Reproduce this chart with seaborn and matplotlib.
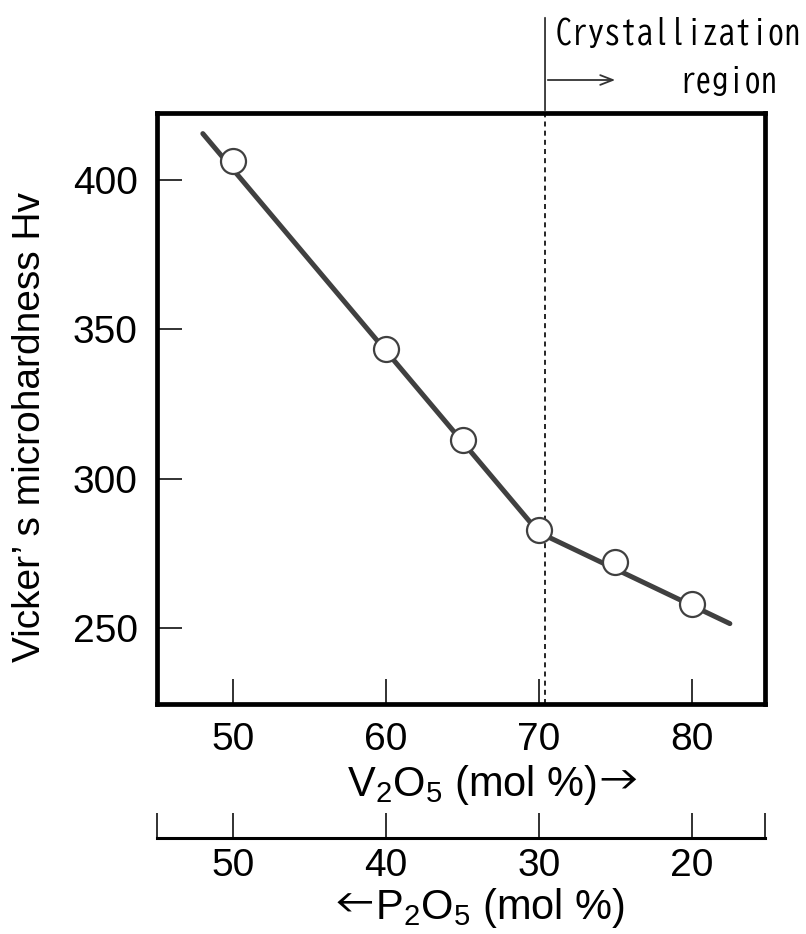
import matplotlib
matplotlib.use("Agg")
import matplotlib.pyplot as plt
import matplotlib.font_manager as fm
import seaborn as sns
import pandas as pd

# ---- data ----
v2o5_points = [50, 60, 65, 70, 75, 80]
hardness_points = [406.5, 343.5, 313, 283, 272, 258]
fit_x = [48.0, 70.0, 82.5]
fit_y = [415.5, 282.0, 251.5]
y_ticks = [250, 300, 350, 400]
x_ticks = [50, 60, 70, 80]
p2o5_ticks = [50, 40, 30, 20]
cryst_boundary = 70.4

sns.set_style("white")
installed = {f.name for f in fm.fontManager.ttflist}
GOTHIC = next((n for n in ["BIZ UDGothic", "Kosugi", "M PLUS 1 Code",
                           "Archivo Narrow"] if n in installed), "DejaVu Sans")
SANS = "Liberation Sans"
FAM = [SANS, "DejaVu Sans"]
GFAM = [GOTHIC, "DejaVu Sans"]
plt.rcParams["font.family"] = FAM
plt.rcParams["mathtext.fontset"] = "custom"
plt.rcParams["mathtext.rm"] = SANS
plt.rcParams["mathtext.it"] = SANS
plt.rcParams["text.color"] = "black"
plt.rcParams["xtick.color"] = "black"
plt.rcParams["ytick.color"] = "black"

FS = 28
W, H = 806, 934
fig = plt.figure(figsize=(W / 100, H / 100), dpi=100)
L, R, T, B = 157, 765, 113, 704
ax = fig.add_axes([L / W, 1 - B / H, (R - L) / W, (B - T) / H])

df_pts = pd.DataFrame({"v": v2o5_points, "h": hardness_points})
df_fit = pd.DataFrame({"v": fit_x, "h": fit_y})
sns.lineplot(data=df_fit, x="v", y="h", ax=ax, color="#404040", lw=3.6,
             sort=False, zorder=2)
ax.plot(df_pts["v"], df_pts["h"], ls="none", marker="o", ms=18,
        mfc="white", mec="#404040", mew=1.6, zorder=3)

ax.set_xlim(45.0, 84.8)
ax.set_ylim(224.6, 422.4)
ax.set_xticks(x_ticks)
ax.set_yticks(y_ticks)
ax.set_xticklabels([str(t) for t in x_ticks])
ax.set_yticklabels([str(t) for t in y_ticks])
ax.tick_params(bottom=True, left=True, direction="in", length=18, width=1.3,
               color="#222222", labelsize=FS, pad=13)
ax.tick_params(axis="y", pad=14)
for s in ax.spines.values():
    s.set_linewidth(3.4)
    s.set_color("black")
ax.set_xlabel("")
ax.set_ylabel("")

# dashed boundary
ax.axvline(cryst_boundary, color="black", ls=(0, (3, 2.5)), lw=1.2, zorder=1)
# solid extension above axes
ax.annotate("", xy=(cryst_boundary, 1.0), xycoords=("data", "axes fraction"),
            xytext=(cryst_boundary, (H - 15) / H), textcoords=("data", "figure fraction"),
            arrowprops=dict(arrowstyle="-", color="#333333", lw=1.3),
            annotation_clip=False)
ax.annotate("", xy=(618 / W, 1 - 80 / H), xycoords="figure fraction",
            xytext=(cryst_boundary, 1 - 80 / H), textcoords=("data", "figure fraction"),
            arrowprops=dict(arrowstyle="->,head_length=0.9,head_width=0.35",
                            color="#333333", lw=1.3),
            annotation_clip=False)
fig.text(556 / W, 1 - 33 / H, "Crystallization", ha="left", va="center",
         fontsize=23.5, family=GFAM)
fig.text(778 / W, 1 - 80 / H, "region", ha="right", va="center",
         fontsize=23.5, family=GFAM)

# labels
fig.text(30 / W, 1 - 427 / H, "Vicker\u2019 s microhardness Hv", rotation=90,
         ha="center", va="center", fontsize=FS, family=FAM)
t1 = fig.text(472 / W, 1 - 785 / H, r"V$_2$O$_5$ (mol %)", ha="center",
              va="center", fontsize=30, family=FAM)
fig.text(0, 0, "→", fontsize=30, family=GFAM, ha="left", va="center",
         transform=matplotlib.transforms.offset_copy(
             fig.transFigure, fig=fig, x=0, y=0, units="dots"),
         visible=False)
ax.annotate("→", xy=(1.0, 0.58), xycoords=t1, ha="left", va="center",
            fontsize=30, family=GFAM, annotation_clip=False)

# secondary P2O5 axis
ax2 = fig.add_axes([L / W, 1 - 838 / H, (R - L) / W, 0.0001])
ax2.set_xlim(100 - 45.0, 100 - 84.8)
ax2.set_ylim(0, 1)
for side in ["top", "left", "right"]:
    ax2.spines[side].set_visible(False)
ax2.spines["bottom"].set_linewidth(2.2)
ax2.spines["bottom"].set_color("black")
ax2.set_yticks([])
ax2.set_xticks(p2o5_ticks + [100 - 45.0, 100 - 84.8])
ax2.set_xticklabels([str(t) for t in p2o5_ticks] + ["", ""])
ax2.tick_params(axis="x", bottom=True, direction="in", length=18, width=1.3,
                color="#222222", labelsize=FS, pad=7)
ax2.patch.set_visible(False)
t2 = fig.text(500 / W, 1 - 908 / H, r"P$_2$O$_5$ (mol %)", ha="center",
              va="center", fontsize=30, family=FAM)
ax.annotate("←", xy=(0.0, 0.58), xycoords=t2, ha="right", va="center",
            fontsize=30, family=GFAM, annotation_clip=False)

fig.savefig("out.png", dpi=100)
